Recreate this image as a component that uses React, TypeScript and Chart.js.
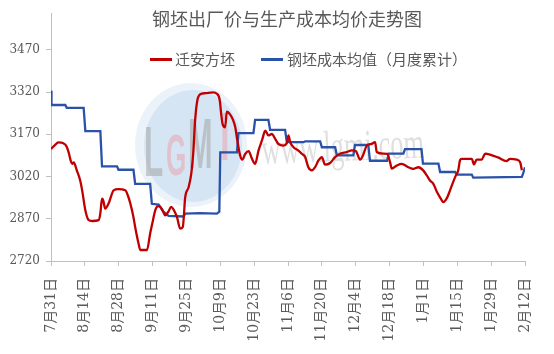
import React, { useEffect, useRef } from "react";
import { Chart, registerables } from "chart.js";

Chart.register(...registerables);

const TITLE = "钢坯出厂价与生产成本均价走势图";
const RED_NAME = "迁安方坯";
const BLUE_NAME = "钢坯成本均值（月度累计）";

const xTickLabels = [
  "7月31日", "8月14日", "8月28日", "9月11日", "9月25日", "10月9日", "10月23日",
  "11月6日", "11月20日", "12月4日", "12月18日", "1月1日", "1月15日", "1月29日", "2月12日",
];
const yTickValues = [2720, 2870, 3020, 3170, 3320, 3470];

// days counted from 7月31日
const redDays = [
  0, 1.4, 3.1, 5.1, 6.3, 7.3, 8.2, 8.8, 9.4, 10.7, 12.1, 12.9, 14.2, 15.5, 17.1, 19.7,
  20.4, 21.1, 21.6, 22.4, 23.8, 25.9, 27.8, 30.7, 31.9, 32.8, 34.0, 34.8, 36.2, 36.9,
  39.7, 41.0, 42.3, 43.1, 44.3, 45.2, 46.4, 47.2, 48.5, 49.7, 50.5, 52.1, 53.4, 54.5,
  55.5, 56.9, 58.0, 58.8, 59.6, 60.5, 61.7, 63.8, 67.0, 68.6, 69.8, 70.4, 71.0, 72.0,
  72.7, 74.1, 75.3, 76.2, 77.0, 78.2, 79.1, 80.3, 81.7, 83.1, 84.4, 85.8, 87.3, 88.6,
  89.9, 91.3, 92.7, 94.0, 96.1, 97.5, 98.2, 98.9, 100.3, 102.3, 103.7, 105.1, 106.4,
  107.9, 109.2, 110.6, 112.0, 113.3, 115.4, 117.5, 119.5, 122.3, 124.4, 126.1, 127.8,
  129.0, 130.6, 132.6, 134.0, 134.7, 137.4, 139.0, 140.2, 140.9, 143.0, 145.0, 147.8,
  149.8, 151.9, 153.9, 155.4, 156.7, 158.1, 159.6, 161.3, 162.2, 163.8, 165.0, 167.1,
  168.4, 169.1, 169.8, 174.0, 174.9, 176.0, 178.1, 179.5, 181.5, 184.8, 188.4, 189.8,
  192.6, 194.0, 194.7,
];
const redValues = [
  3118, 3130, 3141, 3138, 3129, 3106, 3075, 3065, 3070, 3041, 3005, 2970, 2900, 2866, 2862, 2865,
  2889, 2941, 2935, 2906, 2924, 2971, 2975, 2971, 2950, 2924, 2880, 2841, 2782, 2759,
  2759, 2818, 2870, 2900, 2915, 2912, 2895, 2882, 2895, 2912, 2905, 2876, 2835, 2841,
  2947, 2982, 3030, 3100, 3220, 3290, 3312, 3316, 3319, 3314, 3290, 3240, 3205, 3195,
  3250, 3240, 3220, 3195, 3150, 3095, 3080, 3100, 3110, 3083, 3065, 3112, 3150, 3183,
  3166, 3171, 3154, 3136, 3130, 3138, 3166, 3142, 3124, 3112, 3101, 3089, 3053,
  3042, 3053, 3077, 3089, 3062, 3068, 3089, 3101, 3107, 3113, 3110, 3080,
  3095, 3130, 3136, 3142, 3107, 3101, 3100, 3071, 3048, 3059, 3065, 3053,
  3047, 3053, 3042, 3024, 3006, 2994, 2965, 2940, 2929, 2945, 2971, 3018,
  3042, 3077, 3083, 3083, 3063, 3080, 3080, 3101, 3098, 3088, 3075, 3083,
  3080, 3071, 3042,
];

const blueDays = [
  0, 0.2, 5.9, 6.5, 13.5, 14.2, 20.4, 21.1, 27.3, 27.9, 34.1, 34.8, 41.0, 41.7, 44.5,
  46.5, 48.6, 54.8, 55.5, 61.7, 68.6, 69.6, 70.0, 76.9, 77.5, 83.7, 84.4, 89.9, 90.6,
  96.8, 97.5, 104.4, 105.1, 111.3, 112.0, 117.5, 118.2, 125.0, 125.7, 131.2, 131.9,
  139.0, 139.6, 145.7, 146.4, 153.2, 153.8, 160.2, 160.9, 167.1, 167.8, 174.0, 174.6,
  194.7, 195.2, 196.0,
];
const blueValues = [
  3325, 3274, 3274, 3264, 3264, 3181, 3181, 3056, 3056, 3044, 3044, 2994, 2994, 2923, 2920,
  2895, 2880, 2878, 2888, 2890, 2888, 2895, 3106, 3106, 3174, 3174, 3221, 3221, 3186,
  3186, 3142, 3142, 3145, 3145, 3124, 3124, 3095, 3095, 3132, 3132, 3076,
  3076, 3101, 3101, 3117, 3117, 3066, 3066, 3036, 3036, 3027, 3027, 3016,
  3019, 3030, 3053,
];

const RED = "#C00000";
const BLUE = "#2A52A8";
const TEXT = "#595959";
const AXIS = "#BFBFBF";

const overlayPlugin = {
  id: "overlay",
  beforeDatasetsDraw(chart: any) {
    const ctx = chart.ctx as CanvasRenderingContext2D;
    ctx.save();
    // watermark circle
    ctx.beginPath();
    ctx.ellipse(191, 145, 56, 62, 0, 0, Math.PI * 2);
    ctx.fillStyle = "rgba(230,239,247,0.8)";
    ctx.fill();
    ctx.beginPath();
    ctx.ellipse(193, 146, 49, 56, 0, 0, Math.PI * 2);
    ctx.fillStyle = "rgba(205,224,241,0.7)";
    ctx.fill();
    const letter = (ch: string, x: number, y: number, color: string, sx: number, size: number) => {
      ctx.save();
      ctx.translate(x, y);
      ctx.scale(sx, 1);
      ctx.font = `bold ${size}px "Liberation Sans"`;
      ctx.fillStyle = color;
      ctx.textBaseline = "alphabetic";
      ctx.fillText(ch, 0, 0);
      ctx.restore();
    };
    letter("L", 144, 176, "rgba(160,160,160,0.5)", 0.45, 70);
    letter("G", 166, 175, "rgba(236,160,170,0.5)", 0.45, 58);
    letter("M", 188, 168, "rgba(160,160,160,0.5)", 0.42, 70);
    letter("i", 220, 160, "rgba(236,160,170,0.5)", 0.55, 64);
    // watermark url
    ctx.save();
    ctx.translate(262, 164);
    ctx.rotate(-0.04);
    ctx.scale(0.6, 1);
    ctx.font = '44px "Liberation Serif"';
    ctx.fillStyle = "rgba(170,170,170,0.38)";
    ctx.fillText("www.lgmi.com", 0, 0);
    ctx.restore();
    ctx.restore();
  },
  afterDraw(chart: any) {
    const ctx = chart.ctx as CanvasRenderingContext2D;
    ctx.save();
    ctx.fillStyle = TEXT;
    ctx.textBaseline = "middle";
    ctx.textAlign = "center";
    ctx.font = '18px "Noto Sans CJK SC"';
    ctx.fillText(TITLE, 287, 19);
    // legend
    ctx.textAlign = "left";
    ctx.font = '15px "Noto Sans CJK SC"';
    ctx.lineWidth = 3;
    ctx.strokeStyle = RED;
    ctx.beginPath();
    ctx.moveTo(150, 59.5);
    ctx.lineTo(172, 59.5);
    ctx.stroke();
    ctx.fillText(RED_NAME, 175, 59);
    ctx.strokeStyle = BLUE;
    ctx.beginPath();
    ctx.moveTo(261, 59.5);
    ctx.lineTo(283, 59.5);
    ctx.stroke();
    ctx.fillText(BLUE_NAME, 287, 59);
    ctx.restore();
  },
};

export default function App() {
  const ref = useRef<HTMLCanvasElement | null>(null);
  useEffect(() => {
    if (!ref.current) return;
    const chart = new Chart(ref.current, {
      type: "line",
      data: {
        datasets: [
          {
            label: RED_NAME,
            data: redDays.map((d, i) => ({ x: d, y: redValues[i] })),
            borderColor: RED,
            borderWidth: 2.3,
            pointRadius: 0,
            cubicInterpolationMode: "monotone",
            fill: false,
          },
          {
            label: BLUE_NAME,
            data: blueDays.map((d, i) => ({ x: d, y: blueValues[i] })),
            borderColor: BLUE,
            borderWidth: 2.3,
            pointRadius: 0,
            tension: 0,
            fill: false,
          },
        ],
      },
      options: {
        responsive: false,
        animation: false,
        layout: { padding: { left: 0, right: 29, top: 12, bottom: 0 } },
        plugins: {
          legend: { display: false },
          title: { display: false },
          tooltip: { enabled: false },
        },
        scales: {
          x: {
            type: "linear",
            min: 0,
            max: 196,
            afterBuildTicks: (s: any) => {
              s.ticks = xTickLabels.map((_, i) => ({ value: i * 14 }));
            },
            afterFit: (s: any) => {
              s.height = 93;
            },
            ticks: {
              autoSkip: false,
              maxRotation: 90,
              minRotation: 90,
              padding: 12,
              color: TEXT,
              font: { family: '"DejaVu Serif", "Noto Sans CJK SC"', size: 14 },
              callback: (v: any) => xTickLabels[Math.round(Number(v) / 14)],
            },
            grid: { drawOnChartArea: false, tickLength: 5, color: AXIS },
            border: { color: AXIS },
          },
          y: {
            min: 2720,
            max: 3600,
            afterBuildTicks: (s: any) => {
              s.ticks = yTickValues.map((v) => ({ value: v }));
            },
            afterFit: (s: any) => {
              s.width = 51;
            },
            ticks: {
              padding: 6,
              color: TEXT,
              font: { family: '"DejaVu Serif"', size: 12 },
              callback: (v: any) => String(v),
            },
            grid: { drawOnChartArea: false, tickLength: 5, color: AXIS },
            border: { color: AXIS },
          },
        },
      },
      plugins: [overlayPlugin],
    } as any);
    return () => chart.destroy();
  }, []);
  return (
    <div style={{ position: "absolute", left: 0, top: 0, width: 554, height: 354, background: "#fff" }}>
      <canvas ref={ref} width={554} height={354} style={{ display: "block" }} />
    </div>
  );
}
